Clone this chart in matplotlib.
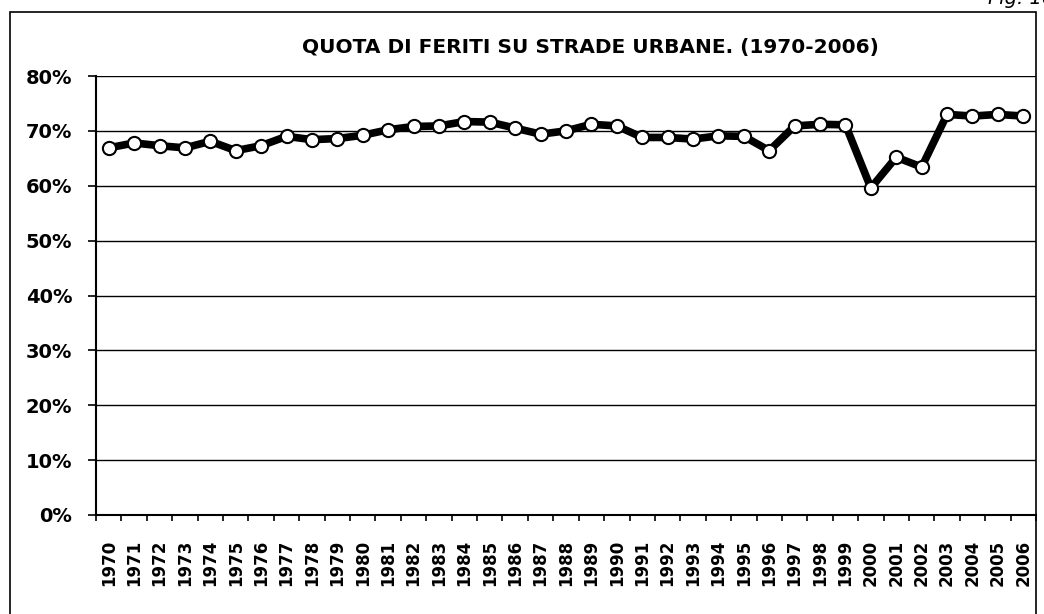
import numpy as np
from matplotlib import pyplot as plt
from matplotlib.patches import Rectangle

# share of injured on urban roads
years = list(range(1970, 2007))
share = [66.9, 67.8, 67.3, 66.9, 68.1, 66.4, 67.3, 69.0, 68.4, 68.6,
         69.2, 70.2, 70.8, 70.9, 71.7, 71.6, 70.5, 69.4, 70.0, 71.2,
         70.9, 68.8, 68.8, 68.5, 69.1, 69.0, 66.4, 70.9, 71.2, 71.1,
         59.6, 65.2, 63.4, 73.0, 72.7, 73.0, 72.7]
y_ticks = [0, 10, 20, 30, 40, 50, 60, 70, 80]
title_text = "QUOTA DI FERITI SU STRADE URBANE. (1970-2006)"

W, H = 1044, 614
fig = plt.figure(figsize=(W / 100, H / 100), dpi=100)
ax = fig.add_axes([96 / W, (H - 515) / H, 940 / W, 439 / H])

# outer frame of the scanned figure
fig.patches.append(Rectangle((10 / W, -0.1), 1026 / W, 1.1 - 12 / H, transform=fig.transFigure,
                             fill=False, edgecolor="black", linewidth=1.2))
fig.text(988 / W, 1 - 4 / H, "Fig. 10.6", style="italic", fontsize=14, va="baseline")

x = np.arange(len(years))
ax.plot(x, share, color="black", linewidth=5.5, zorder=3,
        marker="o", markersize=9.5, markerfacecolor="white", markeredgecolor="black",
        markeredgewidth=1.5)

ax.set_xlim(-0.5, len(years) - 0.5)
ax.set_ylim(0, 80)
ax.set_yticks(y_ticks)
ax.set_yticklabels([f"{v}%" for v in y_ticks], fontsize=14, fontweight="bold")
ax.set_xticks(x)
ax.set_xticklabels([str(y) for y in years], rotation=90, fontsize=12, fontweight="bold")
ax.set_xticks(np.arange(-0.5, len(years)), minor=True)
ax.tick_params(axis="x", which="major", length=0, pad=18)
ax.tick_params(axis="x", which="minor", length=4.5, width=1.2, direction="out")
ax.tick_params(axis="y", length=6, width=1.2, pad=11, direction="out")

ax.grid(True, axis="y", color="black", linewidth=1)
ax.set_axisbelow(True)
for side in ["top", "right"]:
    ax.spines[side].set_visible(False)
ax.spines["left"].set_linewidth(1.5)
ax.spines["bottom"].set_linewidth(1.5)

fig.text(590 / W, 1 - 48 / H, title_text, fontsize=14.5, fontweight="bold", ha="center", va="center")

plt.savefig("out.png", dpi=100)
plt.close()
